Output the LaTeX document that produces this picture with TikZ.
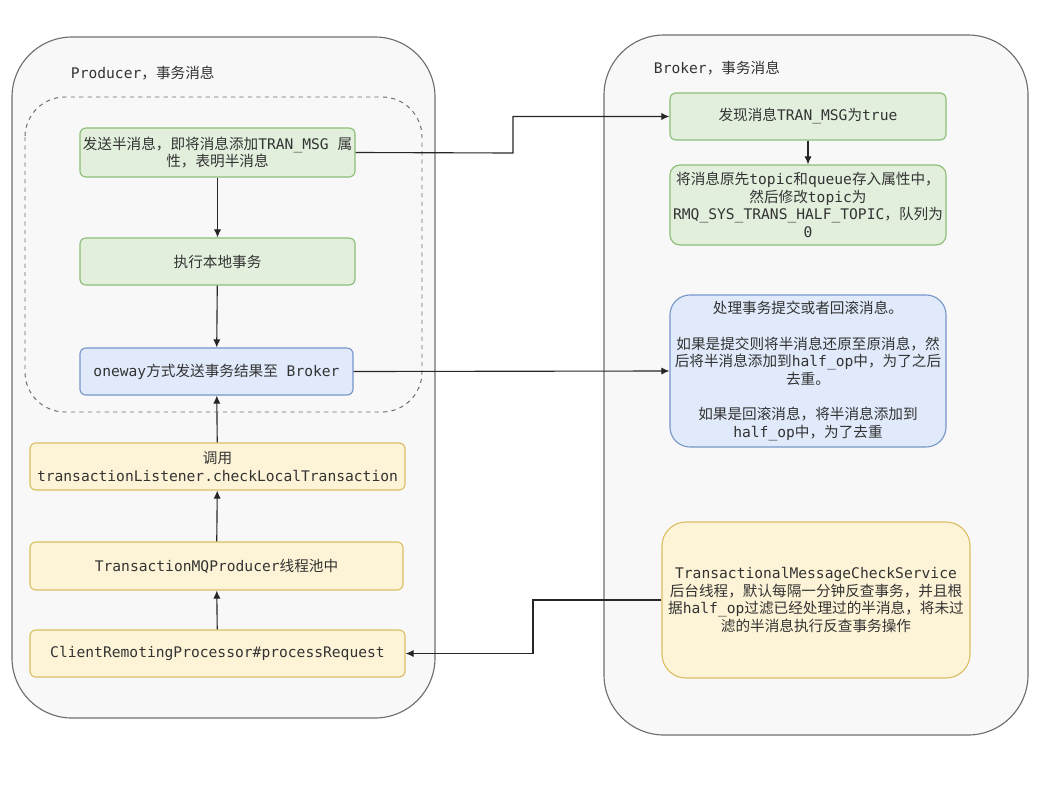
\documentclass[tikz,border=0pt]{standalone}
\usepackage{fontspec}
\usepackage{xcolor}
\usepackage{tikz}
\usetikzlibrary{positioning, arrows.meta}
\setmainfont{DejaVu Sans Mono}
\newfontfamily\cjk{Noto Sans CJK SC}
\newcommand{\zh}[1]{{\cjk #1}}
\definecolor{panelgray}{RGB}{248,248,248}
\definecolor{panelline}{RGB}{110,110,110}
\definecolor{boxgreen}{RGB}{226,239,220}
\definecolor{linegreen}{RGB}{140,190,120}
\definecolor{boxblue}{RGB}{224,234,250}
\definecolor{lineblue}{RGB}{120,150,200}
\definecolor{boxyellow}{RGB}{253,244,215}
\definecolor{lineyellow}{RGB}{220,190,100}
\definecolor{textgray}{RGB}{51,51,51}

\begin{document}
\begin{tikzpicture}[
  x=0.025cm, y=-0.025cm,
  box/.style={rectangle, draw, rounded corners=0.15cm, line width=0.8pt, align=center, text=textgray,
    font=\fontsize{10.4}{12.5}\selectfont, inner sep=2pt},
  greenbox/.style={box, fill=boxgreen, draw=linegreen},
  bluebox/.style={box, fill=boxblue, draw=lineblue},
  yellowbox/.style={box, fill=boxyellow, draw=lineyellow},
  title/.style={anchor=west, text=textgray, font=\fontsize{10.4}{12.5}\selectfont},
  arr/.style={-{Latex[length=2mm, width=1.8mm]}, line width=0.8pt, black!85}
]
\useasboundingbox (0,0) rectangle (1058,789);

% panels
\draw[fill=panelgray, draw=panelline, line width=0.8pt, rounded corners=1.5cm] (12,37) rectangle (435,718);
\draw[fill=panelgray, draw=panelline, line width=0.8pt, rounded corners=1.5cm] (604,35) rectangle (1028,735);
\draw[dashed, draw=panelline, line width=0.7pt, rounded corners=1cm] (25,97) rectangle (422,412);

\node[title] (ptitle) at (66,73) {Producer\zh{，事务消息}};
\node[title] (btitle) at (649,68) {Broker\zh{，事务消息}};

% producer
\node[greenbox, minimum width=6.875cm, minimum height=1.225cm] (half) at (217.5,152.5)
  {\zh{发送半消息，即将消息添加}TRAN\_MSG \zh{属}\\\zh{性，表明半消息}};
\node[greenbox, minimum width=6.875cm, minimum height=1.175cm] (local) at (217.5,261.5) {\zh{执行本地事务}};
\node[bluebox, minimum width=6.825cm, minimum height=1.175cm] (oneway) at (216.5,371.5)
  {oneway\zh{方式发送事务结果至} Broker};
\node[yellowbox, minimum width=9.375cm, minimum height=1.175cm] (check) at (217.5,466.5)
  {\zh{调用}\\transactionListener.checkLocalTransaction};
\node[yellowbox, minimum width=9.325cm, minimum height=1.2cm] (pool) at (216.5,566)
  {TransactionMQProducer\zh{线程池中}};
\node[yellowbox, minimum width=9.375cm, minimum height=1.175cm] (remoting) at (217.5,653.5)
  {ClientRemotingProcessor\#processRequest};

% broker
\node[greenbox, minimum width=6.9cm, minimum height=1.175cm] (found) at (808,116.5)
  {\zh{发现消息}TRAN\_MSG\zh{为}true};
\node[greenbox, rounded corners=0.25cm, minimum width=6.9cm, minimum height=2cm] (store) at (808,205)
  {\zh{将消息原先}topic\zh{和}queue\zh{存入属性中，}\\\zh{然后修改}topic\zh{为}\\RMQ\_SYS\_TRANS\_HALF\_TOPIC\zh{，队列为}\\0};
\node[bluebox, rounded corners=0.5cm, minimum width=6.9cm, minimum height=3.8cm] (commit) at (808,371)
  {\zh{处理事务提交或者回滚消息。}\\[12.5pt]
   \zh{如果是提交则将半消息还原至原消息，然}\\\zh{后将半消息添加到}half\_op\zh{中，为了之后}\\\zh{去重。}\\[12.5pt]
   \zh{如果是回滚消息，将半消息添加到}\\half\_op\zh{中，为了去重}};
\node[yellowbox, rounded corners=0.6cm, minimum width=7.7cm, minimum height=3.9cm] (service) at (816,600)
  {TransactionalMessageCheckService\\\zh{后台线程，默认每隔一分钟反查事务，并且根}\\\zh{据}half\_op\zh{过滤已经处理过的半消息，将未过}\\\zh{滤的半消息执行反查事务操作}};

\coordinate (bendhalf) at (513,153);
\coordinate (bendservice) at (533,600);

\draw[arr] (half) -- (local);
\draw[arr] (local) -- (oneway);
\draw[arr] (check) -- (oneway);
\draw[arr] (pool) -- (check);
\draw[arr] (remoting) -- (pool);
\draw[arr] (found) -- (store);
\draw[arr] (half.east) -- (bendhalf) |- (found.west);
\draw[arr] (oneway.east) -- (commit.west);
\draw[arr] (service.west) -- (bendservice) |- (remoting.east);
\end{tikzpicture}
\end{document}
